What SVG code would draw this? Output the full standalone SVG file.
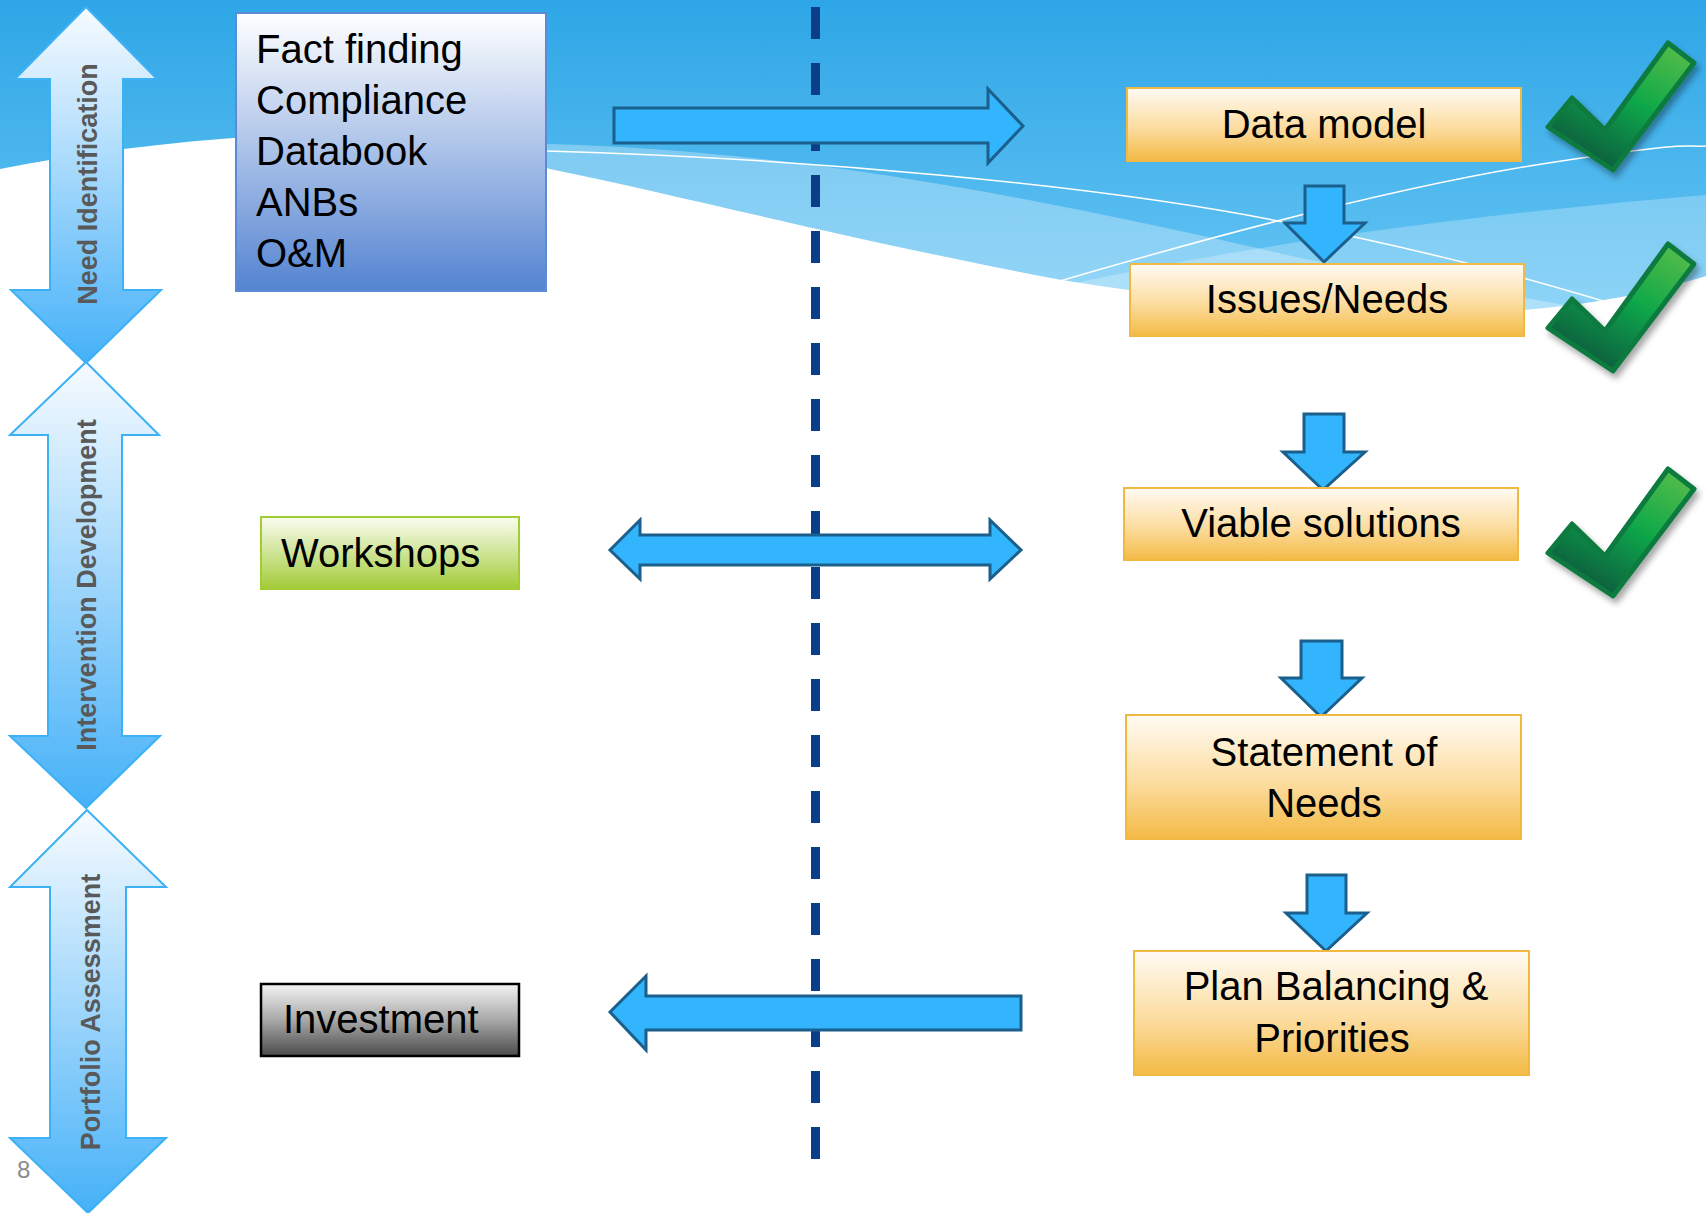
<svg xmlns="http://www.w3.org/2000/svg" width="1706" height="1213" viewBox="0 0 1706 1213">
<defs>
<linearGradient id="sky" x1="0" y1="0" x2="0" y2="1" gradientUnits="objectBoundingBox"><stop offset="0" stop-color="#2ea6e6"/><stop offset="1" stop-color="#6ac7f5"/></linearGradient>
<linearGradient id="phase" x1="0" y1="0" x2="0" y2="1"><stop offset="0" stop-color="#f7fbff"/><stop offset="1" stop-color="#45b1f8"/></linearGradient>
<linearGradient id="blueBox" x1="0" y1="0" x2="0" y2="1"><stop offset="0" stop-color="#ffffff"/><stop offset="1" stop-color="#5483d1"/></linearGradient>
<linearGradient id="orange" x1="0" y1="0" x2="0" y2="1"><stop offset="0" stop-color="#fffbf4"/><stop offset="0.55" stop-color="#fcdc9f"/><stop offset="1" stop-color="#f3ba45"/></linearGradient>
<linearGradient id="green" x1="0" y1="0" x2="0" y2="1"><stop offset="0" stop-color="#fafdf2"/><stop offset="1" stop-color="#a2cb37"/></linearGradient>
<linearGradient id="gray" x1="0" y1="0" x2="0" y2="1"><stop offset="0" stop-color="#f4f4f4"/><stop offset="0.5" stop-color="#a8a8a8"/><stop offset="1" stop-color="#4a4a4a"/></linearGradient>
<linearGradient id="check" x1="1" y1="0" x2="0.35" y2="1"><stop offset="0" stop-color="#5fc04a"/><stop offset="0.5" stop-color="#10a84a"/><stop offset="1" stop-color="#0b5a3e"/></linearGradient>
<filter id="shadow" x="-20%" y="-20%" width="150%" height="150%"><feDropShadow dx="3" dy="5" stdDeviation="3" flood-color="#000" flood-opacity="0.35"/></filter>
<path id="tick" d="M24,56 L57,88 L120,1 L146,21 L65,128 L0,85 Z"/>
<style>
.box-txt{font-family:"Liberation Sans",Arial,sans-serif;font-size:40px;fill:#000}
.phase-txt{font-family:"Liberation Sans",Arial,sans-serif;font-size:27px;font-weight:bold;fill:#595959}
.phase{fill:url(#phase);stroke:#3cb1f6;stroke-width:2}
.orange{fill:url(#orange);stroke:#f2b942;stroke-width:2}
.conn{fill:#33b5fd;stroke:#1b5f8c;stroke-width:3;stroke-linejoin:miter}
.tick{fill:url(#check);stroke:#0c7a3f;stroke-width:5;stroke-linejoin:round}
</style>
</defs>

<g id="background">
<rect x="0" y="0" width="1706" height="1213" fill="#ffffff"/>
<rect x="0" y="0" width="1706" height="330" fill="url(#sky)"/>
<path d="M546,144 C800,150 1050,200 1300,258 L1706,330 L546,330 Z" fill="#ffffff" opacity="0.3"/>
<path d="M1000,300 C1150,265 1350,225 1706,195 L1706,330 L1000,330 Z" fill="#ffffff" opacity="0.25"/>
<path d="M0,169 C120,145 260,132 380,133 C450,134 500,155 550,169 C700,200 850,240 1062,280 C1250,310 1400,318 1500,312 C1600,305 1660,290 1706,276 L1706,1213 L0,1213 Z" fill="#ffffff"/>
<path d="M546,151 C800,158 1100,185 1283,222 S1550,285 1640,312" fill="none" stroke="#ffffff" stroke-width="1.5"/>
<path d="M1060,281 C1200,240 1400,185 1555,162 S1680,148 1706,146" fill="none" stroke="#ffffff" stroke-width="1.5"/>
</g>

<line id="divider" x1="815.5" y1="7" x2="815.5" y2="1159" stroke="#0b3e88" stroke-width="9" stroke-dasharray="32 24"/>

<g id="phase-need-identification">
<path class="phase" d="M86,7 L157,79 L123,79 L123,290 L161,290 L86,363 L11,290 L50,290 L50,79 L15,79 Z"/>
<text class="phase-txt" transform="translate(97,184) rotate(-90)" text-anchor="middle">Need Identification</text>
</g>
<g id="phase-intervention-development">
<path class="phase" d="M86,362 L159,435 L122,435 L122,736 L160,736 L86,808 L10,736 L48,736 L48,435 L10,435 Z"/>
<text class="phase-txt" transform="translate(96,585) rotate(-90)" text-anchor="middle">Intervention Development</text>
</g>
<g id="phase-portfolio-assessment">
<path class="phase" d="M87,810 L166,887 L126,887 L126,1138 L166,1138 L88,1213 L10,1138 L50,1138 L50,887 L10,887 Z"/>
<text class="phase-txt" transform="translate(100,1012) rotate(-90)" text-anchor="middle">Portfolio Assessment</text>
</g>

<g id="connectors">
<path class="conn" d="M614,108 H988 V89 L1023,126 L988,163 V143 H614 Z"/>
<path class="conn" d="M610,550 L640,520 V535 H990 V520 L1021,550 L990,579 V565 H640 V579 Z"/>
<path class="conn" d="M610,1012 L646,976 V996 H1021 V1030 H646 V1050 Z"/>
<path class="conn" d="M1305,186 H1344 V223 H1365 L1324,262 L1285,223 H1305 Z"/>
<path class="conn" d="M1304,414 H1344 V452 H1365 L1323,490 L1283,452 H1304 Z"/>
<path class="conn" d="M1301,641 H1342 V678 H1362 L1321,717 L1281,678 H1301 Z"/>
<path class="conn" d="M1307,875 H1346 V913 H1367 L1326,951 L1286,913 H1307 Z"/>
</g>

<g id="fact-finding">
<rect x="236" y="13" width="310" height="278" fill="url(#blueBox)" stroke="#5b8bd7" stroke-width="2"/>
<text class="box-txt" x="256" y="63">Fact finding</text>
<text class="box-txt" x="256" y="114">Compliance</text>
<text class="box-txt" x="256" y="165">Databook</text>
<text class="box-txt" x="256" y="216">ANBs</text>
<text class="box-txt" x="256" y="267">O&amp;M</text>
</g>

<g id="workshops">
<rect x="261" y="517" width="258" height="72" fill="url(#green)" stroke="#a0cc34" stroke-width="2"/>
<text class="box-txt" x="281" y="567">Workshops</text>
</g>

<g id="investment">
<rect x="261" y="984" width="258" height="72" fill="url(#gray)" stroke="#000000" stroke-width="2.5"/>
<text class="box-txt" x="283" y="1033">Investment</text>
</g>

<g id="data-model">
<rect class="orange" x="1127" y="88" width="394" height="73"/>
<text class="box-txt" x="1324" y="138" text-anchor="middle">Data model</text>
</g>
<g id="issues-needs">
<rect class="orange" x="1130" y="264" width="394" height="72"/>
<text class="box-txt" x="1327" y="313" text-anchor="middle">Issues/Needs</text>
</g>
<g id="viable-solutions">
<rect class="orange" x="1124" y="488" width="394" height="72"/>
<text class="box-txt" x="1321" y="537" text-anchor="middle">Viable solutions</text>
</g>
<g id="statement-of-needs">
<rect class="orange" x="1126" y="715" width="395" height="124"/>
<text class="box-txt" x="1324" y="766" text-anchor="middle">Statement of</text>
<text class="box-txt" x="1324" y="817" text-anchor="middle">Needs</text>
</g>
<g id="plan-balancing">
<rect class="orange" x="1134" y="951" width="395" height="124"/>
<text class="box-txt" x="1336" y="1000" text-anchor="middle">Plan Balancing &amp;</text>
<text class="box-txt" x="1332" y="1052" text-anchor="middle">Priorities</text>
</g>

<g id="check-1" transform="translate(1548,42)" filter="url(#shadow)"><use href="#tick" class="tick"/></g>
<g id="check-2" transform="translate(1548,243)" filter="url(#shadow)"><use href="#tick" class="tick"/></g>
<g id="check-3" transform="translate(1548,468)" filter="url(#shadow)"><use href="#tick" class="tick"/></g>

<text id="page-number" x="17" y="1178" font-family="Liberation Sans, Arial, sans-serif" font-size="24" fill="#8c8c8c">8</text>
</svg>
